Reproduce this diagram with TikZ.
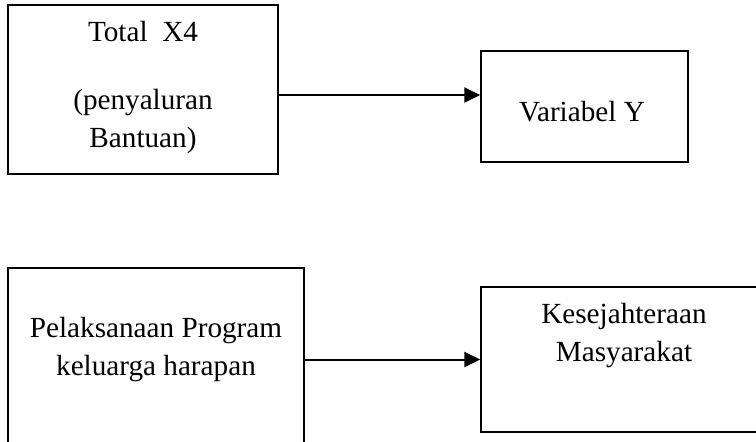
\documentclass[tikz,border=0pt]{standalone}
\usepackage{fontspec}
\setmainfont{Liberation Serif}
\usetikzlibrary{positioning, arrows.meta}

\begin{document}
\begin{tikzpicture}[
    x=0.5pt, y=-0.5pt,
    box/.style={rectangle, draw, line width=0.75pt, inner sep=0pt},
    arrow/.style={-{Triangle[length=8pt, width=7.5pt]}, line width=1pt},
    txt/.style={align=center, inner sep=0pt, outer sep=0pt, font=\fontsize{14.6}{19}\selectfont}
]

% Page frame
\useasboundingbox (0,0) rectangle (756,441);
\clip (0,0) rectangle (756,441);

% Boxes
\node[box, minimum width=135pt, minimum height=84.5pt] (totalx) at (143,89.5) {};
\node[box, minimum width=103.5pt, minimum height=55.5pt] (vary) at (584.5,106.5) {};
\node[box, minimum width=148pt, minimum height=106pt] (pkh) at (156,374) {};
\node[box, minimum width=143pt, minimum height=72.5pt] (sejahtera) at (624,359.5) {};

% Texts
\node[txt, below=8.5pt of totalx.north] (totalxtext) {Total\ \ X4\\[15pt](penyaluran\\Bantuan)};
\node[txt, below=25.5pt of vary.north, xshift=-1.25pt] (varytext) {Variabel Y};
\node[txt, below=25pt of pkh.north] (pkhtext) {Pelaksanaan Program\\keluarga harapan};
\node[txt, below=8.5pt of sejahtera.north] (sejahteratext) {Kesejahteraan\\Masyarakat};

% Arrows
\draw[arrow] ([yshift=-2.75pt]totalx.east) -- ([yshift=-2.75pt]totalx.east -| vary.west);
\draw[arrow] (pkh.east |- sejahtera.west) -- (sejahtera.west);

\end{tikzpicture}
\end{document}
